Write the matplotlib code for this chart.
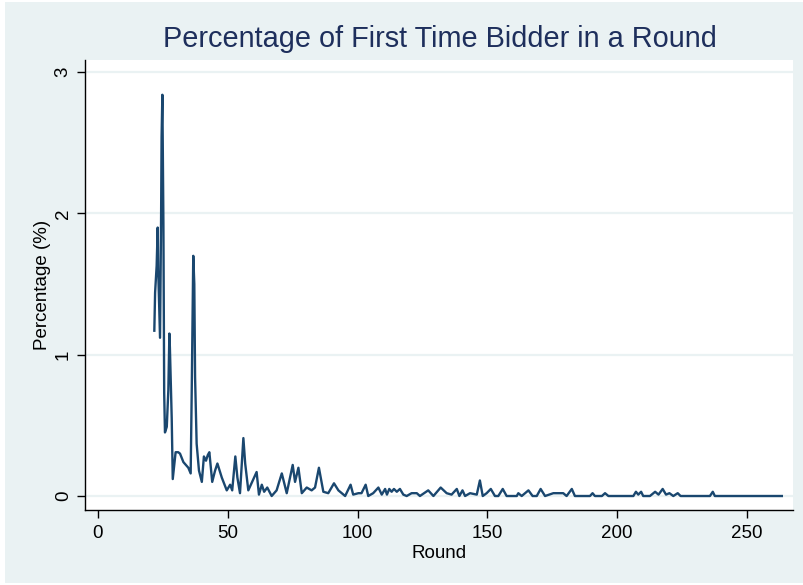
import matplotlib
matplotlib.use("Agg")
import matplotlib.pyplot as plt
from matplotlib.patches import Rectangle

# round number (x) and percentage of first-time bidders (y)
rounds = [
    21.7, 22.0, 22.6, 23.0, 23.2, 23.5, 23.9, 24.3, 24.5, 24.8,
    25.2, 25.5, 25.8, 26.5, 27.1, 27.5, 27.7, 28.4, 28.8, 29.9,
    30.9, 31.6, 32.9, 34.8, 35.7, 36.1, 36.7, 37.1, 37.4, 38.0,
    38.9, 40.0, 40.8, 41.6, 42.3, 42.9, 44.0, 45.1, 46.0, 47.7,
    49.6, 50.9, 51.7, 52.9, 53.7, 54.7, 56.0, 56.7, 57.9, 61.1,
    62.0, 63.1, 64.0, 65.2, 66.9, 68.8, 70.8, 72.7, 75.0, 75.9,
    77.2, 78.5, 80.4, 82.3, 83.6, 85.1, 86.8, 88.7, 90.9, 92.6,
    95.2, 97.3, 98.3, 100.3, 101.5, 103.1, 104.1, 106.0, 108.0, 109.3,
    110.6, 111.3, 112.2, 113.1, 114.0, 115.1, 116.3, 117.6, 118.9, 120.8,
    122.8, 124.0, 127.2, 129.2, 132.0, 134.3, 136.2, 138.2, 139.2, 140.4,
    141.4, 143.3, 145.9, 147.1, 148.2, 149.7, 151.3, 152.9, 154.2, 155.9,
    157.4, 161.3, 161.9, 163.2, 165.8, 167.4, 169.0, 170.5, 172.2, 175.4,
    179.2, 180.5, 182.5, 183.7, 189.5, 190.5, 191.4, 194.1, 195.3, 196.6,
    206.2, 207.2, 208.1, 209.2, 210.0, 212.6, 214.6, 215.9, 217.5, 218.8,
    220.1, 221.6, 223.3, 224.4, 235.7, 236.8, 237.6, 263.4,
]
pct = [
    1.17, 1.44, 1.63, 1.90, 1.60, 1.40, 1.12, 1.95, 2.54, 2.84,
    1.93, 0.73, 0.45, 0.49, 0.75, 1.15, 1.05, 0.55, 0.12, 0.31,
    0.31, 0.30, 0.24, 0.20, 0.16, 0.73, 1.70, 1.50, 0.84, 0.37,
    0.18, 0.10, 0.28, 0.25, 0.29, 0.31, 0.10, 0.18, 0.23, 0.13,
    0.04, 0.08, 0.04, 0.28, 0.13, 0.02, 0.41, 0.23, 0.04, 0.17,
    0.01, 0.08, 0.03, 0.06, 0.00, 0.04, 0.16, 0.02, 0.22, 0.10,
    0.20, 0.02, 0.06, 0.04, 0.06, 0.20, 0.03, 0.02, 0.09, 0.04,
    0.00, 0.08, 0.01, 0.02, 0.02, 0.08, 0.00, 0.02, 0.06, 0.01,
    0.05, 0.01, 0.05, 0.03, 0.05, 0.03, 0.05, 0.01, 0.00, 0.02,
    0.02, 0.00, 0.04, 0.00, 0.06, 0.02, 0.01, 0.05, 0.00, 0.04,
    0.00, 0.02, 0.01, 0.11, 0.00, 0.02, 0.05, 0.00, 0.00, 0.05,
    0.00, 0.00, 0.02, 0.00, 0.04, 0.00, 0.00, 0.05, 0.00, 0.02,
    0.02, 0.00, 0.05, 0.00, 0.00, 0.02, 0.00, 0.00, 0.02, 0.00,
    0.00, 0.03, 0.01, 0.03, 0.00, 0.00, 0.03, 0.01, 0.05, 0.01,
    0.02, 0.00, 0.02, 0.00, 0.00, 0.03, 0.00, 0.00,
]
x_ticks = [0, 50, 100, 150, 200, 250]
y_ticks = [0, 1, 2, 3]

plt.rcParams["font.family"] = ["Liberation Sans", "DejaVu Sans"]

bg = "#EAF2F3"
navy = "#1A476F"

fig = plt.figure(figsize=(8.04, 5.85), dpi=100, facecolor="white")
# stata-like graph region, drawn behind the axes
region = Rectangle((5 / 804, 2 / 585), 1, 581 / 585,
                   transform=fig.transFigure, facecolor=bg,
                   edgecolor="none", zorder=-10)
fig.add_artist(region)

ax = fig.add_axes([85 / 804, 75 / 585, 708 / 804, 450 / 585])
ax.set_zorder(1)
ax.set_facecolor("white")

ax.plot(rounds, pct, color=navy, linewidth=1.7, zorder=3)

ax.set_xlim(-5.0, 267.7)
ax.set_ylim(-0.099, 3.086)
ax.set_xticks(x_ticks)
ax.set_yticks(y_ticks)

ax.grid(True, axis="y", color=bg, linewidth=1.6, zorder=1)
ax.set_axisbelow(True)

for side in ["top", "right"]:
    ax.spines[side].set_visible(False)
for side in ["left", "bottom"]:
    ax.spines[side].set_color("black")
    ax.spines[side].set_linewidth(1.0)

ax.tick_params(axis="both", direction="out", length=6, width=1.0,
               labelsize=13.5, colors="black")
ax.tick_params(axis="x", pad=5)
for lab in ax.get_yticklabels():
    lab.set_rotation(90)
    lab.set_va("center")

ax.set_xlabel("Round", fontsize=13.5, labelpad=2)
ax.set_ylabel("Percentage (%)", fontsize=13.5, labelpad=3)

fig.text(440 / 804, 1 - 39 / 585, "Percentage of First Time Bidder in a Round",
         ha="center", va="center", fontsize=20.8, color="#1E2F5C")

fig.savefig("out.png", dpi=100, facecolor=fig.get_facecolor())
